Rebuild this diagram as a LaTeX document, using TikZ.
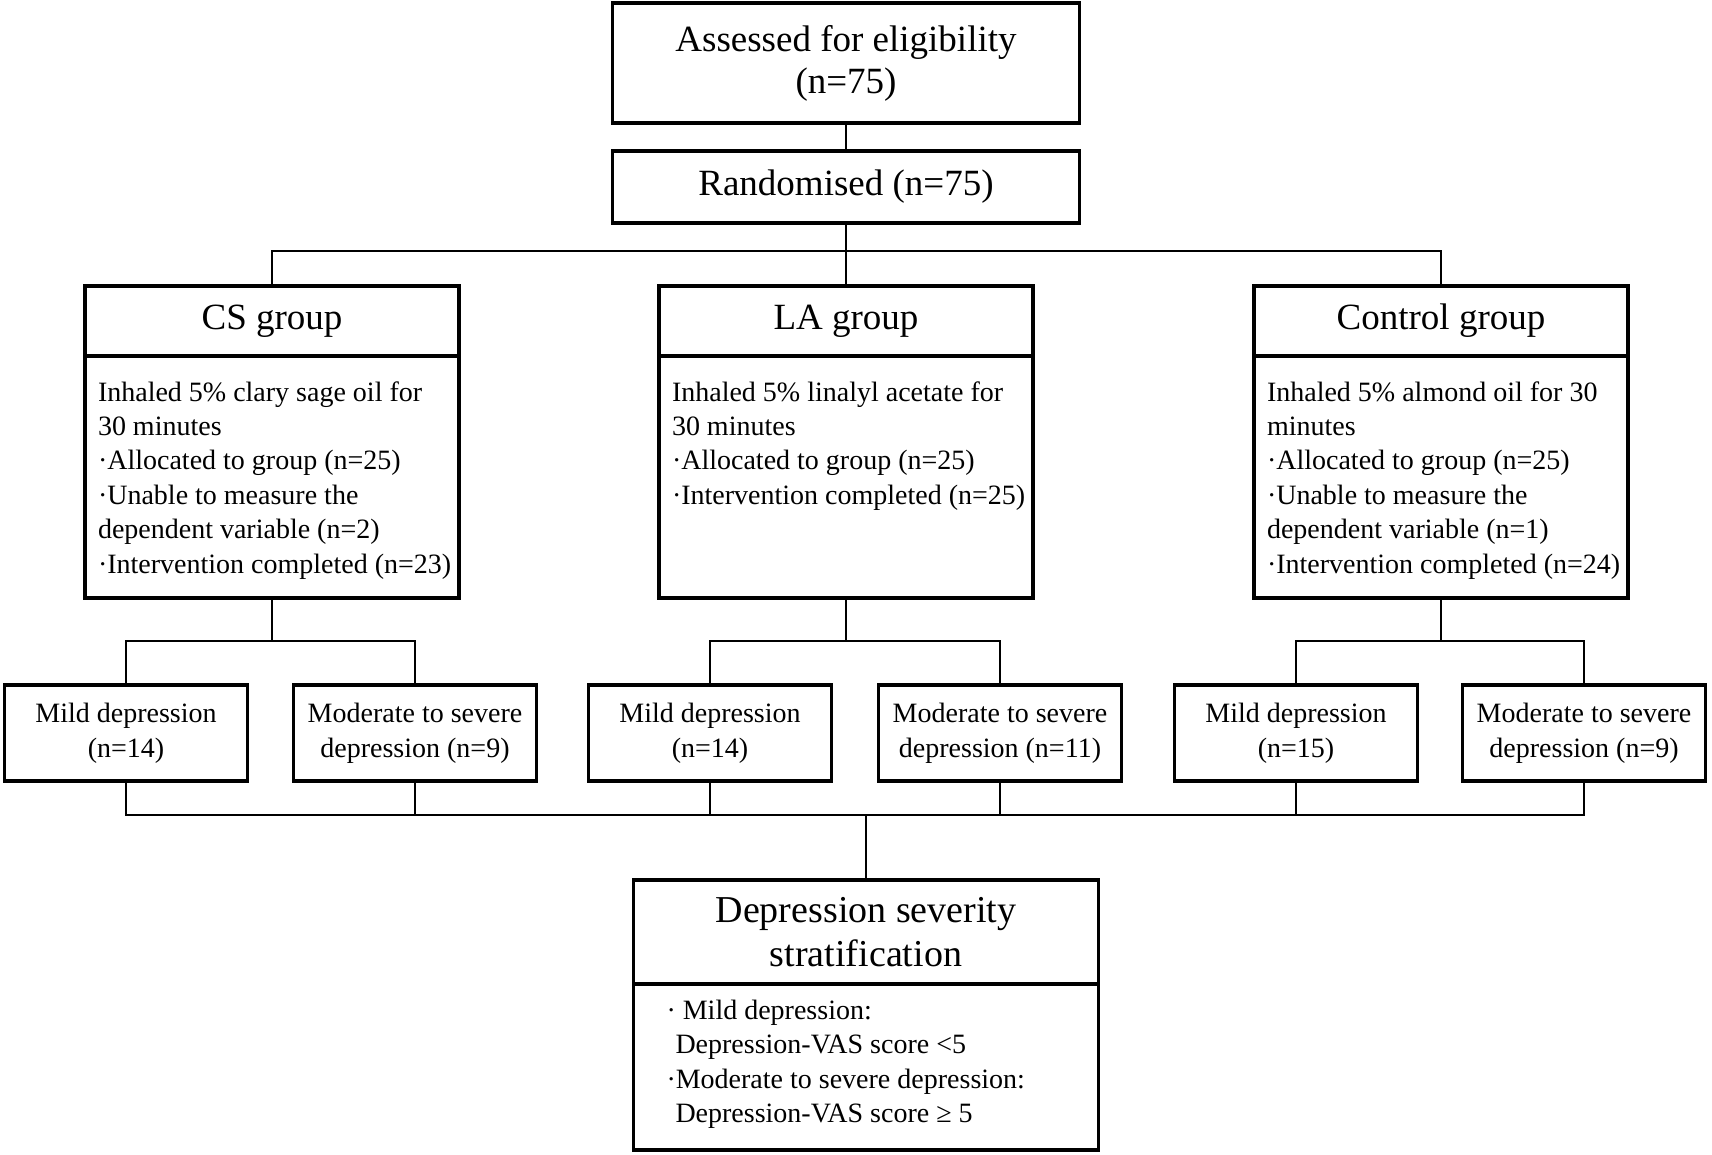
\documentclass[tikz,border=0pt]{standalone}
\usepackage{fontspec}
\setmainfont{Liberation Serif}
\usetikzlibrary{
    positioning,
    calc
}
% lines that hang from the top of a fixed box
\newcommand{\toplines}[5]{\parbox[c][#1][t]{#2}{\vspace*{#3}\hspace*{#4}\begin{tabular}[t]{@{}l@{}}#5\end{tabular}}}
\tikzset{%
    % Specifications for style of nodes:
    plain/.style = {},
    base/.style = {
        plain,
        rectangle, draw=black, line width=1.6pt,
        text centered, fill=white, align=center,
        inner sep=0pt
    },
    head/.style = {base, minimum width=233.5pt, font=\fontsize{18.5}{21}\selectfont},
    title/.style = {base, minimum width=187pt, minimum height=35pt, font=\fontsize{18.5}{21}\selectfont},
    body/.style = {base, font=\fontsize{14}{17.2}\selectfont},
    sub/.style = {base, minimum width=121.5pt, minimum height=48pt, font=\fontsize{14}{17.5}\selectfont},
    link/.style = {line width=1.4pt}
}
\begin{document}
\begin{tikzpicture}[x=0.5pt, y=-0.5pt]
    \path[use as bounding box, fill=white] (0,0) rectangle (1712,1155);
    % top
    \node[head, minimum height=60pt] (assess) at (846,63) {Assessed for eligibility\\(n=75)};
    \node[head, minimum height=36pt] (rand) at (846,187) {Randomised (n=75)};
    % groups
    \node[title] (csT) at (272,321) {CS group};
    \node[body] (csB) at (272,477) {\toplines{121pt}{187pt}{10.5pt}{6.5pt}{%
        Inhaled 5\% clary sage oil for\\30 minutes\\·Allocated to group (n=25)\\
        ·Unable to measure the\\dependent variable (n=2)\\·Intervention completed (n=23)}};
    \node[title] (laT) at (846,321) {LA group};
    \node[body] (laB) at (846,477) {\toplines{121pt}{187pt}{10.5pt}{6.5pt}{%
        Inhaled 5\% linalyl acetate for\\30 minutes\\·Allocated to group (n=25)\\
        ·Intervention completed (n=25)}};
    \node[title] (ctlT) at (1441,321) {Control group};
    \node[body] (ctlB) at (1441,477) {\toplines{121pt}{187pt}{10.5pt}{6.5pt}{%
        Inhaled 5\% almond oil for 30\\minutes\\·Allocated to group (n=25)\\
        ·Unable to measure the\\dependent variable (n=1)\\·Intervention completed (n=24)}};
    % severity per group
    \node[sub] (cs1) at (126,733) {Mild depression\\(n=14)};
    \node[sub] (cs2) at (415,733) {Moderate to severe\\depression (n=9)};
    \node[sub] (la1) at (710,733) {Mild depression\\(n=14)};
    \node[sub] (la2) at (1000,733) {Moderate to severe\\depression (n=11)};
    \node[sub] (ctl1) at (1296,733) {Mild depression\\(n=15)};
    \node[sub] (ctl2) at (1584,733) {Moderate to severe\\depression (n=9)};
    % stratification
    \node[title, minimum width=232.5pt, minimum height=52pt, font=\fontsize{19}{22}\selectfont] (depT) at (866,932) {Depression severity\\stratification};
    \node[body, font=\fontsize{14}{17.25}\selectfont] (depB) at (866,1067) {\toplines{83pt}{232.5pt}{5.6pt}{16.5pt}{%
        · Mild depression:\\\hspace{4.5pt}Depression-VAS score <5\\
        ·Moderate to severe depression:\\\hspace{4.5pt}Depression-VAS score ≥ 5}};
    % connectors
    \coordinate (split) at (846,251);
    \draw[link] (assess) -- (rand);
    \draw[link] (rand) -- (split);
    \draw[link] (csT.north) |- (split) -| (ctlT.north);
    \draw[link] (split) -- (laT.north);
    \foreach \g/\x in {cs/272,la/846,ctl/1441}{
        \coordinate (\g F) at (\x,641);
        \draw[link] (\g B) -- (\g F);
        \draw[link] (\g 1.north) |- (\g F) -| (\g 2.north);
    }
    \coordinate (merge) at (866,815);
    \draw[link] (cs1.south) |- (merge) -| (ctl2.south);
    \foreach \n in {cs2,la1,la2,ctl1}{
        \draw[link] (\n.south) -- (\n.south |- merge);
    }
    \draw[link] (merge) -- (depT.north);
\end{tikzpicture}
\end{document}
